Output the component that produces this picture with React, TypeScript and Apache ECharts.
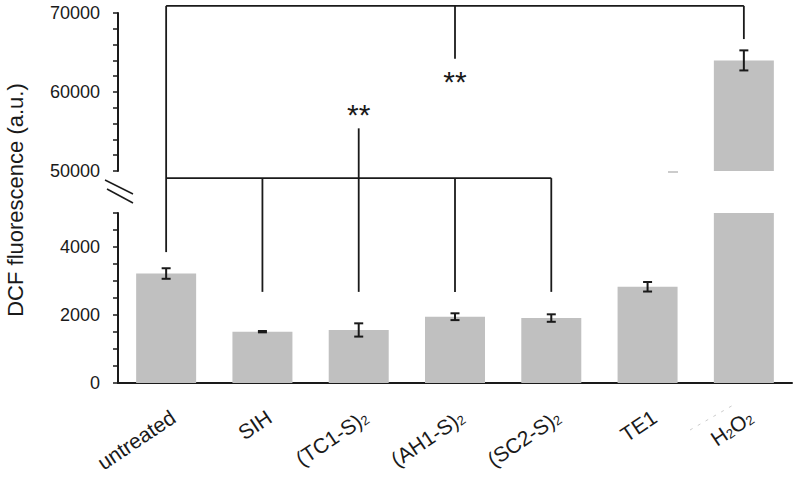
import React, { useEffect, useRef } from 'react';
import * as echarts from 'echarts';

const categories = ['untreated', 'SIH', '(TC1-S)2', '(AH1-S)2', '(SC2-S)2', 'TE1', 'H2O2'];
const categoryLabels = ['untreated', 'SIH', '(TC1-S){sub|2}', '(AH1-S){sub|2}', '(SC2-S){sub|2}', 'TE1', 'H{sub|2}O{sub|2}'];
const means = [3220, 1510, 1560, 1950, 1910, 2830, 64000];
const errors = [155, 20, 195, 100, 110, 140, 1270];

const lowerRange = [0, 5000];
const lowerTicks = [0, 2000, 4000];
const upperRange = [50000, 70000];
const upperTicks = [50000, 60000, 70000];

// significance brackets: [category index, axis ('hi' upper / 'lo' lower), value]
const topBracketLevel = 70900; // upper axis
const topBracketDrops: [number, string, number][] = [[0, 'lo', 3850], [3, 'hi', 64200], [6, 'hi', 66700]];
const midBracketLevel = 49100; // upper axis
const midBracketDrops: [number, string, number][] = [[1, 'lo', 2680], [2, 'lo', 2680], [3, 'lo', 2680], [4, 'lo', 2680]];
const midBracketRise: [number, string, number] = [2, 'hi', 55400];
const starMarks: [number, string, number, string][] = [[3, 'hi', 61300, '**'], [2, 'hi', 57100, '**']];

const FONT = 'Liberation Sans, Arial, sans-serif';
const INK = '#1a1a1a';
const BAR = '#c0c0c0';

export default function App() {
  const ref = useRef<HTMLDivElement>(null);
  useEffect(() => {
    if (!ref.current) return;
    const chart = echarts.init(ref.current, undefined, { renderer: 'svg' });

    const errRender = (params: any, api: any) => {
      const x = api.value(0);
      const lo = api.coord([x, api.value(1)]);
      const hi = api.coord([x, api.value(2)]);
      const hw = 4.5;
      const st = { stroke: INK, lineWidth: 2 };
      return {
        type: 'group',
        children: [
          { type: 'line', shape: { x1: lo[0], y1: lo[1], x2: hi[0], y2: hi[1] }, style: st },
          { type: 'line', shape: { x1: lo[0] - hw, y1: lo[1], x2: lo[0] + hw, y2: lo[1] }, style: st },
          { type: 'line', shape: { x1: hi[0] - hw, y1: hi[1], x2: hi[0] + hw, y2: hi[1] }, style: st },
        ],
      };
    };

    const lowerErr = means
      .map((m, i) => [i, m - errors[i], m + errors[i]])
      .filter((d) => d[2] <= lowerRange[1]);
    const upperErr = means
      .map((m, i) => [i, m - errors[i], m + errors[i]])
      .filter((d) => d[1] >= upperRange[0]);

    const yAxisBase = (range: number[], interval: number, ticks: number[]) => ({
      type: 'value',
      min: range[0],
      max: range[1],
      interval,
      axisLine: { show: true, lineStyle: { color: INK, width: 2 } },
      axisTick: { show: true, length: 5, lineStyle: { color: INK, width: 1.5 } },
      axisLabel: {
        margin: 18,
        fontSize: 18,
        fontFamily: FONT,
        color: INK,
        formatter: (v: number) => (ticks.includes(v) ? String(v) : ''),
      },
      splitLine: { show: false },
    });

    const option: any = {
      animation: false,
      grid: [
        { left: 118, right: 8, top: 13, height: 158 },
        { left: 118, right: 8, top: 213, height: 170 },
      ],
      xAxis: [
        { type: 'category', gridIndex: 0, data: categories, show: false },
        {
          type: 'category',
          gridIndex: 1,
          data: categories,
          axisLine: { lineStyle: { color: INK, width: 2 } },
          axisTick: { show: false },
          axisLabel: { show: false },
        },
      ],
      yAxis: [
        { gridIndex: 0, ...yAxisBase(upperRange, 2000, upperTicks) },
        { gridIndex: 1, ...yAxisBase(lowerRange, 500, lowerTicks) },
      ],
      series: [
        {
          type: 'bar',
          xAxisIndex: 0,
          yAxisIndex: 0,
          barWidth: 60,
          clip: true,
          itemStyle: { color: BAR },
          data: means.map((v) => (v > upperRange[0] ? v : '-')),
        },
        {
          type: 'bar',
          xAxisIndex: 1,
          yAxisIndex: 1,
          barWidth: 60,
          clip: true,
          itemStyle: { color: BAR },
          data: means,
        },
        {
          type: 'custom',
          xAxisIndex: 0,
          yAxisIndex: 0,
          renderItem: errRender,
          encode: { x: 0, y: [1, 2] },
          data: upperErr,
          z: 5,
        },
        {
          type: 'custom',
          xAxisIndex: 1,
          yAxisIndex: 1,
          renderItem: errRender,
          encode: { x: 0, y: [1, 2] },
          data: lowerErr,
          z: 5,
        },
      ],
    };
    chart.setOption(option);

    const px = (cat: number, axis: string, v: number) =>
      chart.convertToPixel({ gridIndex: axis === 'hi' ? 0 : 1 } as any, [cat, v]) as number[];
    const lineStyle = { stroke: INK, lineWidth: 1.8 };
    const seg = (a: number[], b: number[]) => ({
      type: 'line',
      shape: { x1: a[0], y1: a[1], x2: b[0], y2: b[1] },
      style: lineStyle,
      z: 10,
    });
    const g: any[] = [];
    // top bracket
    const tL = px(topBracketDrops[0][0], 'hi', topBracketLevel);
    const tR = px(topBracketDrops[topBracketDrops.length - 1][0], 'hi', topBracketLevel);
    g.push(seg(tL, tR));
    topBracketDrops.forEach((d) => {
      g.push(seg(px(d[0], 'hi', topBracketLevel), px(d[0], d[1], d[2])));
    });
    // middle bracket
    const mL = px(0, 'hi', midBracketLevel);
    const mR = px(midBracketDrops[midBracketDrops.length - 1][0], 'hi', midBracketLevel);
    g.push(seg(mL, mR));
    midBracketDrops.forEach((d) => {
      g.push(seg(px(d[0], 'hi', midBracketLevel), px(d[0], d[1], d[2])));
    });
    g.push(seg(px(midBracketRise[0], 'hi', midBracketLevel), px(midBracketRise[0], midBracketRise[1], midBracketRise[2])));
    starMarks.forEach((s) => {
      const p = px(s[0], s[1], s[2]);
      g.push({
        type: 'text',
        x: p[0],
        y: p[1],
        style: { text: s[3], fontSize: 30, fontFamily: FONT, fill: INK, align: 'center', verticalAlign: 'middle' },
        z: 10,
      });
    });
    // category labels (rotated)
    categoryLabels.forEach((lab, i) => {
      const p = px(i, 'lo', 0);
      g.push({
        type: 'text',
        x: p[0] + 7,
        y: p[1] + 32,
        rotation: (34 * Math.PI) / 180,
        style: {
          text: lab,
          fontSize: 21,
          fontFamily: FONT,
          fill: INK,
          align: 'right',
          verticalAlign: 'middle',
          rich: {
            sub: { fontSize: 13, fontFamily: FONT, fill: INK, verticalAlign: 'bottom', lineHeight: 12 },
          },
        },
      });
    });
    // axis break marks
    const axTop = px(0, 'hi', upperRange[0]);
    const axBot = px(0, 'lo', lowerRange[1]);
    const axX = 118;
    const midY = (axTop[1] + axBot[1]) / 2;
    const brk = { stroke: INK, lineWidth: 1.5 };
    g.push({ type: 'line', shape: { x1: axX - 13, y1: midY - 12, x2: axX + 15, y2: midY + 2 }, style: brk });
    g.push({ type: 'line', shape: { x1: axX - 11, y1: midY - 3, x2: axX + 15, y2: midY + 11 }, style: brk });
    // faint scan artifacts
    g.push({ type: 'line', shape: { x1: 668, y1: 172, x2: 678, y2: 172 }, style: { stroke: '#aaa', lineWidth: 1.2 } });
    g.push({ type: 'line', shape: { x1: 690, y1: 430, x2: 735, y2: 404 }, style: { stroke: '#ccc', lineWidth: 1, lineDash: [3, 6] } });
    // y-axis title
    g.push({
      type: 'text',
      x: 15,
      y: 200,
      rotation: Math.PI / 2,
      style: {
        text: 'DCF fluorescence (a.u.)',
        fontSize: 22,
        fontFamily: FONT,
        fill: INK,
        align: 'center',
        verticalAlign: 'middle',
      },
    });
    chart.setOption({ graphic: g });

    return () => chart.dispose();
  }, []);
  return <div ref={ref} style={{ position: 'absolute', left: 0, top: 0, width: 800, height: 482 }} />;
}
